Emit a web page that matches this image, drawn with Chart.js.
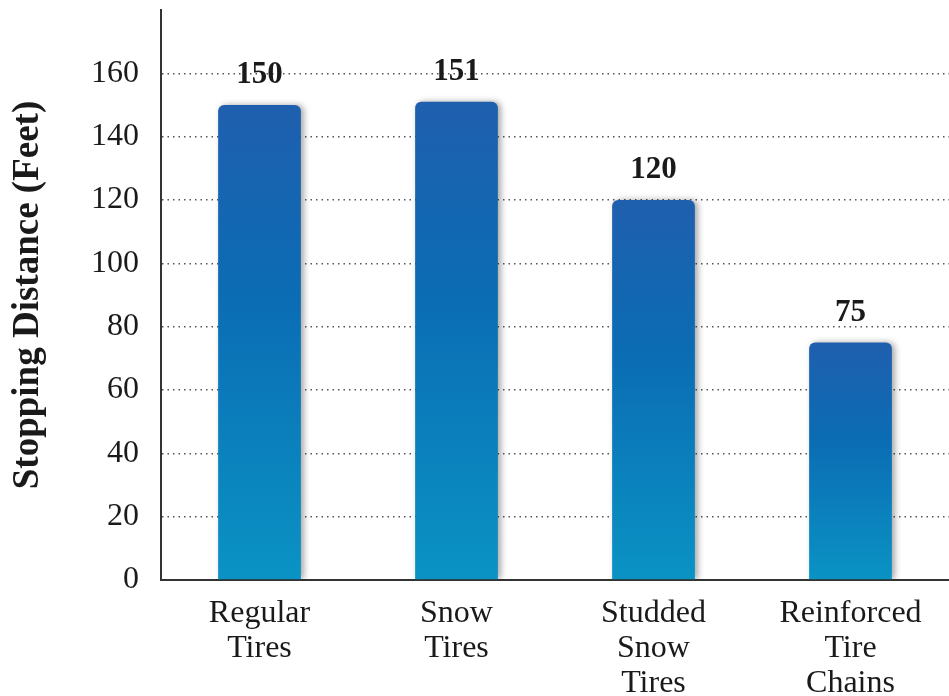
<!DOCTYPE html>
<html>
<head>
<meta charset="utf-8">
<script src="https://cdn.jsdelivr.net/npm/chart.js@4/dist/chart.umd.min.js"></script>
<style>
  html, body { margin: 0; padding: 0; background: #fff; }
  #wrap { width: 949px; height: 696px; }
</style>
</head>
<body>
<div id="wrap"><canvas id="myChart"></canvas></div>
<script>
var categories = [['Regular', 'Tires'], ['Snow', 'Tires'], ['Studded', 'Snow', 'Tires'], ['Reinforced', 'Tire', 'Chains']];
var distances = [150, 151, 120, 75];
var yTicks = [0, 20, 40, 60, 80, 100, 120, 140, 160];
var yMax = 180;

var serif = "'Liberation Serif', 'DejaVu Serif', serif";

// gradient per bar, from its top down to zero
function barColor(ctx) {
  var chart = ctx.chart;
  if (!chart.chartArea || ctx.dataIndex === undefined) return '#0a6bb3';
  var y = chart.scales.y;
  var top = y.getPixelForValue(ctx.raw);
  var bottom = y.getPixelForValue(0);
  var g = chart.ctx.createLinearGradient(0, top, 0, bottom);
  g.addColorStop(0, '#1f5fae');
  g.addColorStop(0.4, '#0b6cb4');
  g.addColorStop(1, '#0a93c4');
  return g;
}

var shadowPlugin = {
  id: 'barShadow',
  beforeDatasetsDraw: function (chart) {
    var c = chart.ctx;
    c.save();
    c.shadowColor = 'rgba(0,0,0,0.35)';
    c.shadowBlur = 6;
    c.shadowOffsetX = 3;
    c.shadowOffsetY = 0;
  },
  afterDatasetsDraw: function (chart) {
    chart.ctx.restore();
  }
};

var valueLabels = {
  id: 'valueLabels',
  afterDraw: function (chart) {
    var c = chart.ctx;
    var meta = chart.getDatasetMeta(0);
    c.save();
    c.font = 'bold 31px ' + serif;
    c.fillStyle = '#1a1a1a';
    c.textAlign = 'center';
    c.textBaseline = 'alphabetic';
    meta.data.forEach(function (bar, i) {
      c.fillText(distances[i], bar.x, bar.y - 22);
    });
    c.restore();
  }
};

var ctx = document.getElementById('myChart').getContext('2d');
var myChart = new Chart(ctx, {
  type: 'bar',
  data: {
    labels: categories,
    datasets: [
      {
        label: 'Stopping Distance',
        data: distances,
        backgroundColor: barColor,
        borderWidth: 0,
        borderRadius: 6,
        borderSkipped: 'start',
        barPercentage: 0.42,
        categoryPercentage: 1
      }
    ]
  },
  plugins: [shadowPlugin, valueLabels],
  options: {
    responsive: true,
    maintainAspectRatio: false,
    animation: false,
    layout: {
      padding: { top: 10, right: 0, left: 0, bottom: 0 }
    },
    scales: {
      x: {
        grid: { display: false, drawTicks: false },
        border: { display: true, color: '#333', width: 2 },
        ticks: {
          color: '#1a1a1a',
          padding: 16,
          maxRotation: 0,
          autoSkip: false,
          font: { family: serif, size: 32, lineHeight: 1.1 }
        },
        afterFit: function (scale) { scale.height = 116; }
      },
      y: {
        min: 0,
        max: yMax,
        afterBuildTicks: function (scale) {
          scale.ticks = yTicks.map(function (v) { return { value: v }; });
        },
        grid: {
          drawTicks: false,
          color: function (c) { return c.tick && c.tick.value === 0 ? 'rgba(0,0,0,0)' : '#555'; },
          lineWidth: 1.5
        },
        border: { display: true, color: '#333', width: 2, dash: [1.5, 4] },
        ticks: {
          color: '#1a1a1a',
          padding: 22,
          font: { family: serif, size: 32 }
        },
        title: {
          display: true,
          text: 'Stopping Distance (Feet)',
          color: '#1a1a1a',
          padding: { top: 6, bottom: 0 },
          font: { family: serif, size: 37, weight: 'bold' }
        },
        afterFit: function (scale) {
          scale.width = 161;
          scale.paddingTop = 0;
        }
      }
    },
    plugins: {
      legend: { display: false },
      tooltip: { enabled: false }
    }
  }
});
</script>
</body>
</html>
